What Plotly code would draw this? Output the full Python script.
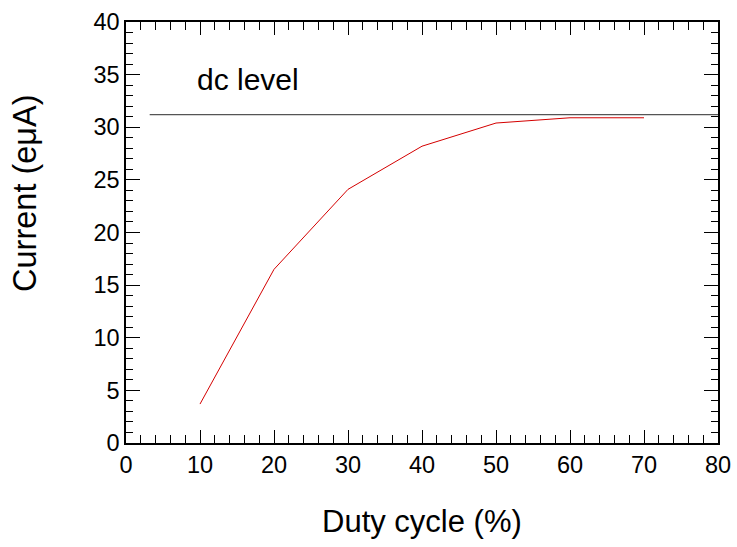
import plotly.graph_objects as go

duty = [10, 20, 30, 40, 50, 60, 70]
current = [3.7, 16.5, 24.1, 28.2, 30.4, 30.9, 30.9]
dc_x = [3.2, 80]
dc_y = [31.2, 31.2]

FONT = "Liberation Sans, Arial, sans-serif"

fig = go.Figure()
fig.add_trace(go.Scatter(x=dc_x, y=dc_y, mode="lines",
                         line=dict(color="#555555", width=1.3), showlegend=False))
fig.add_trace(go.Scatter(x=duty, y=current, mode="lines",
                         line=dict(color="#d40000", width=1), showlegend=False))

fig.add_annotation(x=16.5, y=34.5, text="dc level", showarrow=False,
                   font=dict(family=FONT, size=30, color="black"))

# axis titles
fig.add_annotation(xref="paper", yref="paper", x=-0.1706, y=0.594, text="Current (eμA)",
                   textangle=-90, showarrow=False, xanchor="center", yanchor="middle",
                   font=dict(family=FONT, size=32.5, color="black"))
fig.add_annotation(xref="paper", yref="paper", x=0.5, y=-0.1876, text="Duty cycle (%)",
                   showarrow=False, xanchor="center", yanchor="middle",
                   font=dict(family=FONT, size=31, color="black"))

axis_common = dict(showgrid=False, zeroline=False, showline=True, linecolor="black",
                   linewidth=1.5, ticks="inside", tickcolor="black", tickwidth=1,
                   automargin=False,
                   mirror="allticks", tickfont=dict(family=FONT, size=23.5, color="black"))

fig.update_xaxes(range=[0, 80], dtick=10, ticklen=13,
                 minor=dict(dtick=2, ticks="inside", ticklen=8, tickcolor="black", tickwidth=1),
                 **axis_common)
fig.update_yaxes(range=[0, 40], dtick=5, ticklen=14,
                 minor=dict(dtick=1, ticks="inside", ticklen=7, tickcolor="black", tickwidth=1),
                 **axis_common)

fig.update_layout(width=737, height=547, plot_bgcolor="white", paper_bgcolor="white",
                  margin=dict(l=126, r=19, t=22, b=104))

fig.write_html("out.html", config={"displayModeBar": False},
               post_script="document.body.style.margin='0';")
